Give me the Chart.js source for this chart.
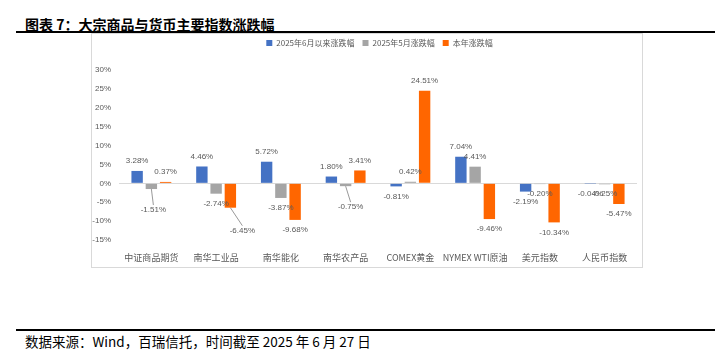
<!DOCTYPE html>
<html>
<head>
<meta charset="utf-8">
<script src="https://cdn.jsdelivr.net/npm/chart.js@4.4.1/dist/chart.umd.min.js"></script>
<style>
  body { margin: 0; width: 715px; height: 359px; background: #fff; position: relative; overflow: hidden; }
  .title { position: absolute; left: 25px; top: 14px; font: 700 14px "Noto Sans CJK SC"; color: #000; }
  .rule { position: absolute; left: 16px; right: 0; height: 2px; background: #000; }
  .box { position: absolute; left: 91px; top: 33px; width: 552px; height: 235px; border: 1px solid #d9d9d9; box-sizing: border-box; }
  .source { position: absolute; left: 25px; top: 331px; font: 13.5px "Noto Sans CJK SC"; color: #000; }
</style>
</head>
<body>
<div class="title">图表 7：大宗商品与货币主要指数涨跌幅</div>
<div class="rule" style="top:31px"></div>
<div class="box"><canvas id="chart" width="550" height="233"></canvas></div>
<div class="rule" style="top:329px;height:1.5px"></div>
<div class="source">数据来源：Wind，百瑞信托，时间截至 2025 年 6 月 27 日</div>
<script>
const categories = ['中证商品期货', '南华工业品', '南华能化', '南华农产品', 'COMEX黄金', 'NYMEX WTI原油', '美元指数', '人民币指数'];
const sinceJune = [3.28, 4.46, 5.72, 1.80, -0.81, 7.04, -2.19, -0.04];
const mayChange = [-1.51, -2.74, -3.87, -0.75, 0.42, 4.41, -0.20, -0.25];
const ytdChange = [0.37, -6.45, -9.68, 3.41, 24.51, -9.46, -10.34, -5.47];
const seriesNames = ['2025年6月以来涨跌幅', '2025年5月涨跌幅', '本年涨跌幅'];

// labels pushed further out with a leader line, like the original
const leaders = { '1-0': [2, 11], '2-1': [12, 13], '1-3': [5, 11] };

const barLabels = {
  id: 'barLabels',
  afterDatasetsDraw(chart) {
    const ctx = chart.ctx;
    ctx.save();
    ctx.font = '8px "Liberation Sans"';
    ctx.fillStyle = '#595959';
    ctx.textAlign = 'center';
    ctx.textBaseline = 'middle';
    chart.data.datasets.forEach((ds, i) => {
      chart.getDatasetMeta(i).data.forEach((bar, j) => {
        const v = ds.data[j];
        const dir = v >= 0 ? -1 : 1;
        let x = bar.x, y = bar.y + dir * 10;
        const lead = leaders[i + '-' + j];
        if (lead) {
          x += lead[0]; y += lead[1];
          ctx.strokeStyle = '#7f7f7f';
          ctx.lineWidth = 0.8;
          ctx.beginPath();
          ctx.moveTo(bar.x, bar.y);
          ctx.lineTo(x, y - 5);
          ctx.stroke();
        }
        ctx.fillText(v.toFixed(2) + '%', x, y);
      });
    });
    ctx.restore();
  }
};

// legend: a bit more room below it and nudged right, as in the source
const legendTweak = {
  id: 'legendTweak',
  beforeInit(chart) {
    const fit = chart.legend.fit;
    chart.legend.fit = function () { fit.call(this); this.height += 10; };
  },
  beforeDraw(chart) {
    const lg = chart.legend;
    if (!lg._shifted) { lg.left += 15; lg.right += 15; lg.top -= 3; lg.bottom -= 3; lg._shifted = true; }
  }
};

new Chart(document.getElementById('chart'), {
  type: 'bar',
  data: {
    labels: categories,
    datasets: [
      { label: seriesNames[0], data: sinceJune, backgroundColor: '#4472c4' },
      { label: seriesNames[1], data: mayChange, backgroundColor: '#a5a5a5' },
      { label: seriesNames[2], data: ytdChange, backgroundColor: '#ff6600' }
    ]
  },
  options: {
    responsive: false,
    animation: false,
    datasets: { bar: { categoryPercentage: 0.66, barPercentage: 0.8 } },
    layout: { padding: { left: 0, right: 5, top: 0, bottom: 3 } },
    plugins: {
      legend: {
        position: 'top',
        labels: { boxWidth: 6, boxHeight: 6, padding: 8, color: '#595959', font: { size: 8, family: '"Noto Sans CJK SC"' } }
      },
      tooltip: { enabled: false }
    },
    scales: {
      x: {
        afterFit: s => { s.height = 24; },
        grid: { display: false, drawTicks: false },
        border: { display: false },
        ticks: { color: '#595959', font: { size: 9, family: '"Noto Sans CJK SC"' }, padding: 12, maxRotation: 0, autoSkip: false }
      },
      y: {
        min: -15, max: 30,
        afterFit: s => { s.width = 27; },
        grid: { color: c => c.tick.value === 0 ? '#d9d9d9' : 'transparent', drawTicks: false },
        border: { display: false },
        ticks: { stepSize: 5, padding: 8, color: '#595959', font: { size: 8, family: '"Liberation Sans"' }, callback: v => v + '%' }
      }
    }
  },
  plugins: [barLabels, legendTweak]
});
</script>
</body>
</html>
